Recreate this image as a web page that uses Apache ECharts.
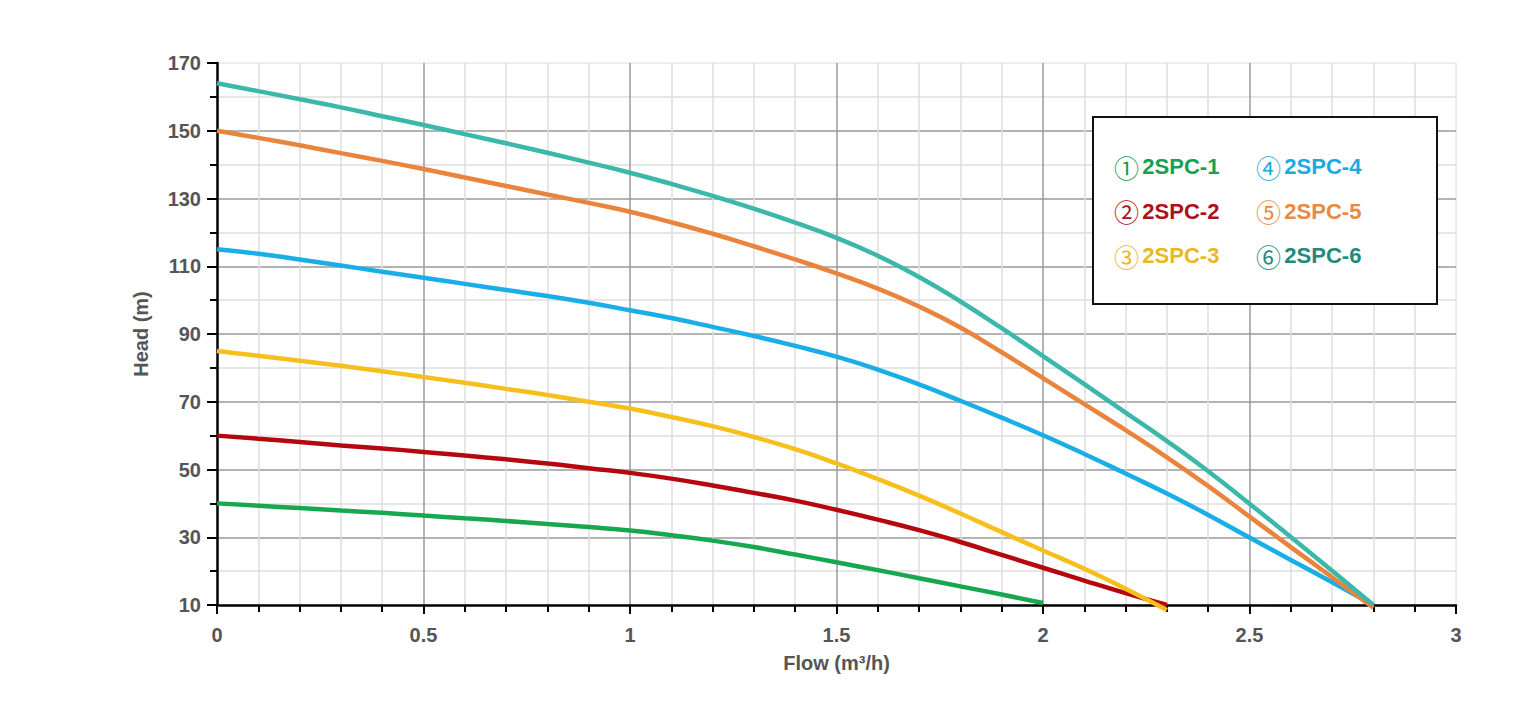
<!DOCTYPE html>
<html>
<head>
<meta charset="utf-8">
<script src="https://cdn.jsdelivr.net/npm/echarts@6/dist/echarts.min.js"></script>
<style>
  html, body { margin: 0; padding: 0; background: #fff; }
  #chart { width: 1522px; height: 713px; }
</style>
</head>
<body>
<div id="chart"></div>
<script>
// 流量点 (m³/h)
var flow = [0, 0.1, 0.2, 0.3, 0.4, 0.5, 0.6, 0.7, 0.8, 0.9, 1.0, 1.1, 1.2, 1.3, 1.4, 1.5,
            1.6, 1.7, 1.8, 1.9, 2.0, 2.1, 2.2, 2.3, 2.4, 2.5, 2.6, 2.7, 2.8]

var names = ['2SPC-1', '2SPC-2', '2SPC-3', '2SPC-4', '2SPC-5', '2SPC-6']
var marks = ['①', '②', '③', '④', '⑤', '⑥']

// 扬程 (m)
var head1 = [40, 39.3, 38.6, 37.9, 37.2, 36.4, 35.6, 34.8, 33.9, 33, 32, 30.6, 29, 27.1, 24.9,
             22.6, 20.3, 17.9, 15.5, 13.1, 10.6]
var head2 = [60, 59.1, 58.1, 57.1, 56.2, 55.2, 54.1, 53, 51.8, 50.4, 49, 47.3, 45.3, 43.1, 40.8,
             38.1, 35.2, 32.1, 28.6, 24.8, 21, 17.2, 13.5, 10]
var head3 = [85, 83.6, 82.1, 80.6, 79, 77.3, 75.6, 73.8, 72, 70, 68, 65.5, 62.8, 59.6, 56,
             51.8, 47.2, 42.3, 37, 31.5, 26.1, 20.7, 14.8, 8.5]
var head4 = [115, 113.7, 112, 110.2, 108.4, 106.6, 104.8, 103, 101.2, 99.2, 97, 94.7, 92.1, 89.4, 86.5,
             83.3, 79.5, 75.1, 70.3, 65.3, 60.1, 54.6, 48.8, 42.9, 36.6, 29.9, 23.3, 16.7, 10]
var head5 = [150, 147.9, 145.7, 143.4, 141.1, 138.7, 136.2, 133.7, 131.2, 128.7, 126.1, 123, 119.6, 115.9, 112,
             107.9, 103.4, 98.1, 91.9, 84.6, 77, 69.3, 61.6, 53.6, 45.1, 36.1, 27.1, 18.2, 9.2]
var head6 = [164, 161.7, 159.3, 156.9, 154.3, 151.7, 149, 146.3, 143.5, 140.6, 137.6, 134.3, 130.8, 127, 122.9,
             118.4, 113.1, 106.8, 99.6, 91.7, 83.5, 75.2, 66.8, 58.4, 49.5, 39.9, 30.1, 20.1, 10]

var heads = [head1, head2, head3, head4, head5, head6]
var lineColors = ['#17a74f', '#b5080e', '#f7bf1b', '#1aaee6', '#ea843c', '#3bb8a9']
var textColors = ['#17a050', '#b0101a', '#e8b822', '#1ba9e2', '#e98a42', '#218a7b']

var labelFont = "'Liberation Sans Narrow', 'Arial Narrow', 'Liberation Sans', Arial, sans-serif"

function pairs(values) {
    var rs = []
    for (var i = 0; i < values.length; i++) {
        rs.push([flow[i], values[i]])
    }
    return rs
}

function legendData(from, to) {
    var rs = []
    for (var i = from; i < to; i++) {
        rs.push({
            name: names[i],
            textStyle: {
                rich: {
                    n: { color: textColors[i], fontFamily: "'Noto Sans CJK SC', serif", fontSize: 25, fontWeight: 'normal' },
                    t: { color: textColors[i], fontFamily: "'Liberation Sans', Arial, sans-serif", fontSize: 22, fontWeight: 'bold' }
                }
            }
        })
    }
    return rs
}

var myChart = echarts.init(document.getElementById('chart'), null, { renderer: 'svg' })

var series = []
for (var k = 0; k < heads.length; k++) {
    series.push({
        name: names[k],
        type: 'line',
        smooth: true,
        showSymbol: false,
        clip: false,
        lineStyle: { color: lineColors[k], width: 4.5 },
        itemStyle: { color: lineColors[k] },
        data: pairs(heads[k])
    })
}

var legendBase = {
    orient: 'vertical',
    icon: 'none',
    itemWidth: 0,
    itemHeight: 24,
    itemGap: 19.5,
    selectedMode: false,
    formatter: function(name) {
        return '{n|' + marks[names.indexOf(name)] + '} {t|' + name + '}'
    },
    textStyle: { lineHeight: 24 }
}

myChart.setOption({
    animation: false,
    grid: {
        left: 217, right: 66, top: 63, bottom: 108,
        show: true, borderColor: '#dcdcdc', borderWidth: 1
    },
    legend: [
        Object.assign({}, legendBase, { left: 1104, top: 149, data: legendData(0, 3) }),
        Object.assign({}, legendBase, { left: 1246, top: 149, data: legendData(3, 6) })
    ],
    graphic: [{
        type: 'rect',
        shape: { x: 1093, y: 117, width: 344, height: 187 },
        style: { fill: '#fff', stroke: '#111', lineWidth: 2 },
        z: 1
    }],
    xAxis: {
        type: 'value',
        min: 0, max: 3, interval: 0.5,
        name: 'Flow (m³/h)',
        nameLocation: 'middle',
        nameGap: 48,
        nameTextStyle: { color: '#555', fontSize: 20, fontFamily: labelFont, fontWeight: 'bold' },
        axisLine: { show: true, onZero: false, lineStyle: { color: '#000', width: 2.5 } },
        axisTick: { show: true, length: 9, lineStyle: { color: '#000', width: 2 } },
        minorTick: { show: true, splitNumber: 5, length: 7, lineStyle: { color: '#000', width: 2 } },
        axisLabel: { color: '#555', fontSize: 20, fontFamily: labelFont, fontWeight: 'bold', margin: 20 },
        splitLine: { show: true, showMinLine: false, showMaxLine: false, lineStyle: { color: '#9a9a9a', width: 1.5 } },
        minorSplitLine: { show: true, lineStyle: { color: '#dedede', width: 1.5 } }
    },
    yAxis: {
        type: 'value',
        min: 10, max: 170, interval: 20,
        name: 'Head (m)',
        nameLocation: 'middle',
        nameGap: 66,
        nameTextStyle: { color: '#555', fontSize: 20, fontFamily: labelFont, fontWeight: 'bold' },
        axisLine: { show: true, onZero: false, lineStyle: { color: '#000', width: 2.5 } },
        axisTick: { show: true, length: 10, lineStyle: { color: '#000', width: 2 } },
        minorTick: { show: true, splitNumber: 2, length: 7, lineStyle: { color: '#000', width: 2 } },
        axisLabel: { color: '#555', fontSize: 20, fontFamily: labelFont, fontWeight: 'bold', margin: 16 },
        splitLine: { show: true, showMinLine: false, showMaxLine: false, lineStyle: { color: '#9a9a9a', width: 1.5 } },
        minorSplitLine: { show: true, lineStyle: { color: '#dedede', width: 1.5 } }
    },
    series: series
})
</script>
</body>
</html>
